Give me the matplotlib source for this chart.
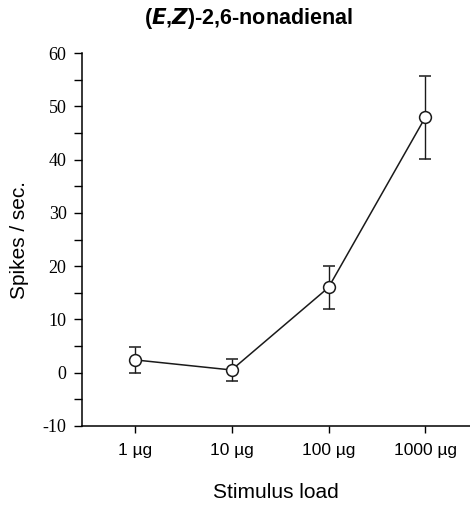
import numpy as np
import matplotlib
matplotlib.use("Agg")
import matplotlib.pyplot as plt
from matplotlib.ticker import MultipleLocator, FuncFormatter

loads = ["1 \u00b5g", "10 \u00b5g", "100 \u00b5g", "1000 \u00b5g"]
spikes = [2.4, 0.5, 16.0, 48.0]
errors = [2.5, 2.1, 4.0, 7.8]

fig = plt.figure(figsize=(4.7, 5.07), dpi=100)
ax = fig.add_axes([0.174, 0.16, 0.826, 0.735])

x = np.arange(len(loads))
ax.errorbar(x, spikes, yerr=errors, color="#1a1a1a", lw=1.1, elinewidth=1.0,
            capsize=4, capthick=1.0, marker="o", ms=8.5, mfc="white",
            mec="#1a1a1a", mew=1.1)

ax.set_xlim(-0.546, 3.46)
ax.set_ylim(-10, 60)
ax.set_xticks(x)
ax.set_xticklabels(loads, fontfamily="Liberation Sans", fontsize=12.5)
ax.yaxis.set_major_locator(MultipleLocator(10))
ax.yaxis.set_minor_locator(MultipleLocator(5))
ax.yaxis.set_major_formatter(FuncFormatter(lambda v, p: "%d" % v))
for lab in ax.get_yticklabels():
    lab.set_fontfamily("Liberation Serif")
    lab.set_fontsize(13)
ax.tick_params(axis="y", which="both", length=6, width=1, direction="out", pad=5)
ax.tick_params(axis="x", length=5, width=1, direction="out", pad=7)

ax.spines["top"].set_visible(False)
ax.spines["right"].set_visible(False)
ax.spines["left"].set_linewidth(1.1)
ax.spines["bottom"].set_linewidth(1.1)

ax.set_ylabel("Spikes / sec.", fontfamily="Liberation Sans", fontsize=15, labelpad=10)
ax.set_xlabel("Stimulus load", fontfamily="Liberation Sans", fontsize=15, labelpad=18)
fig.text(0.528, 0.963, r"($\mathbfit{E}$,$\mathbfit{Z}$)-2,6-nonadienal",
         ha="center", va="center", fontfamily="Liberation Sans",
         fontsize=15.5, fontweight="bold")

fig.savefig("out.png", dpi=100)
